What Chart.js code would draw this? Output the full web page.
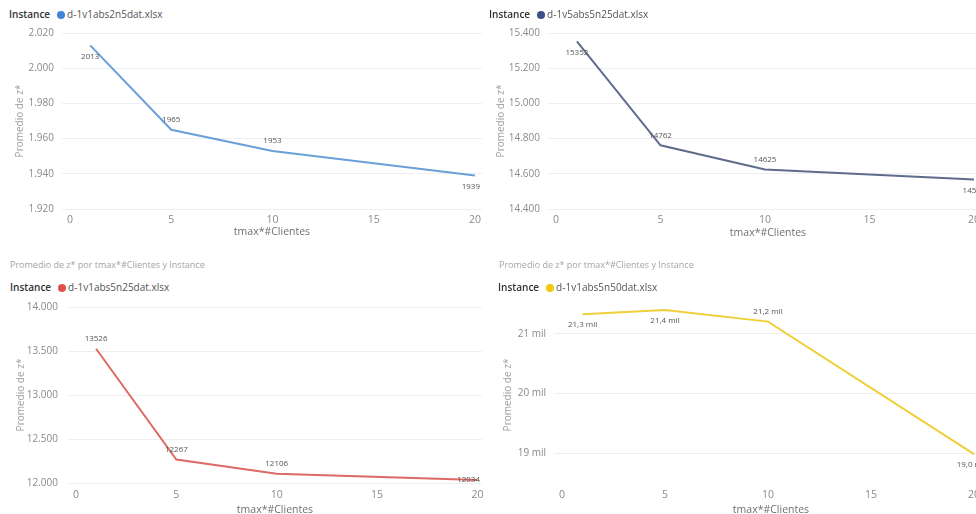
<!DOCTYPE html>
<html>
<head>
<meta charset="utf-8">
<script src="https://cdn.jsdelivr.net/npm/chart.js@4.4.0/dist/chart.umd.min.js"></script>
<style>
html, body { margin:0; padding:0; background:#fff; overflow:hidden; width:976px; height:514px; position:relative; font-family:"Open Sans", sans-serif; }
canvas { position:absolute; }
.leg { position:absolute; font-size:10px; color:#555; white-space:nowrap; line-height:12px; }
.leg b { font-weight:600; color:#333; margin-right:7px; }
.dot { display:inline-block; width:8px; height:8px; border-radius:50%; margin-right:2px; vertical-align:-1px; }
.ttl { position:absolute; font-size:9px; color:#a5a5a5; white-space:nowrap; line-height:12px; }
</style>
</head>
<body>
<script>
// datos
const xValues = [1, 5, 10, 20];
const xTicks = [0, 5, 10, 15, 20];
const instances = ['d-1v1abs2n5dat.xlsx', 'd-1v5abs5n25dat.xlsx', 'd-1v1abs5n25dat.xlsx', 'd-1v1abs5n50dat.xlsx'];
const zAvg1 = [2013, 1965, 1953, 1939];
const zAvg2 = [15352, 14762, 14625, 14567];
const zAvg3 = [13526, 12267, 12106, 12034];
const zAvg4 = [21330, 21400, 21205, 18985];
const yTicks1 = [1920, 1940, 1960, 1980, 2000, 2020];
const yTicks2 = [14400, 14600, 14800, 15000, 15200, 15400];
const yTicks3 = [12000, 12500, 13000, 13500, 14000];
const yTicks4 = [19000, 20000, 21000];
const yRange4 = [18500, 21450];

const chartTitle = 'Promedio de z* por tmax*#Clientes y Instance';
const xTitle = 'tmax*#Clientes';
const yTitle = 'Promedio de z*';

function miles(v) {
	return String(v).replace(/\B(?=(\d{3})+(?!\d))/g, '.');
}
function milCorto(v) {
	return (v / 1000) + ' mil';
}
function milDecimal(v) {
	return (v / 1000).toFixed(1).replace('.', ',') + ' mil';
}

const paneles = [
	{ values: zAvg1, name: instances[0], color: '#6a9fd8', dot: '#3f86d4', yTicks: yTicks1, yMin: yTicks1[0], yMax: yTicks1[5],
	  fmtTick: miles, fmtLabel: String, sides: ['below', 'above', 'above', 'below'],
	  box: { left: 0, top: 0, width: 490, height: 250 }, area: { left: 62, right: 482, top: 33, bottom: 209 },
	  x0: 70, unit: 20.25, tickPad: 8, yTitleX: 20.5, xTickY: 220, xTitleY: 232.7, legend: { x: 9, y: 8 } },
	{ values: zAvg2, name: instances[1], color: '#5f6c8c', dot: '#3b5189', yTicks: yTicks2, yMin: yTicks2[0], yMax: yTicks2[5],
	  fmtTick: miles, fmtLabel: String, sides: ['below', 'above', 'above', 'below'],
	  box: { left: 486, top: 0, width: 510, height: 250 }, area: { left: 548, right: 988, top: 33, bottom: 209 },
	  x0: 556, unit: 20.9, tickPad: 8, yTitleX: 501, xTickY: 220, xTitleY: 233, legend: { x: 489, y: 8 } },
	{ values: zAvg3, name: instances[2], color: '#dd6a64', dot: '#e0504a', yTicks: yTicks3, yMin: yTicks3[0], yMax: yTicks3[4],
	  fmtTick: miles, fmtLabel: String, sides: ['above', 'above', 'above', 'below'],
	  box: { left: 0, top: 250, width: 490, height: 280 }, area: { left: 68, right: 482, top: 307, bottom: 483 },
	  x0: 76, unit: 20.07, tickPad: 10, yTitleX: 21, xTickY: 495, xTitleY: 510, legend: { x: 10, y: 281 }, title: { x: 10, y: 259 } },
	{ values: zAvg4, name: instances[3], color: '#f0cf3a', dot: '#f2c80f', yTicks: yTicks4, yMin: yRange4[0], yMax: yRange4[1],
	  fmtTick: milCorto, fmtLabel: milDecimal, sides: ['below', 'below', 'above', 'below'],
	  box: { left: 486, top: 250, width: 510, height: 280 }, area: { left: 554, right: 988, top: 307, bottom: 483 },
	  x0: 562, unit: 20.6, tickPad: 8, yTitleX: 508.5, xTickY: 495, xTitleY: 510, legend: { x: 498, y: 281 }, title: { x: 499, y: 259 } }
];

const etiquetas = {
	id: 'etiquetas',
	afterDatasetsDraw(chart, args, opts) {
		const ctx = chart.ctx;
		const area = chart.chartArea;
		const meta = chart.getDatasetMeta(0);
		ctx.save();
		ctx.font = '8px "Open Sans"';
		ctx.fillStyle = '#555';
		ctx.textAlign = 'center';
		ctx.textBaseline = 'middle';
		meta.data.forEach((pt, i) => {
			const txt = opts.format(chart.data.datasets[0].data[i].y);
			const w = ctx.measureText(txt).width;
			let x = Math.min(pt.x, area.right - w / 2 - 2);
			let y = pt.y + (opts.sides[i] == 'above' ? -10 : 11);
			y = Math.min(y, area.bottom - 3);
			ctx.fillText(txt, x, y);
		});
		ctx.restore();
	}
};

function crearPanel(p) {
	const b = p.box, a = p.area;
	const lh = 12;
	if (p.title) {
		const t = document.createElement('div');
		t.className = 'ttl';
		t.style.left = p.title.x + 'px';
		t.style.top = p.title.y + 'px';
		t.textContent = chartTitle;
		document.body.appendChild(t);
	}
	const leg = document.createElement('div');
	leg.className = 'leg';
	leg.style.left = p.legend.x + 'px';
	leg.style.top = p.legend.y + 'px';
	leg.innerHTML = '<b>Instance</b><span class="dot" style="background:' + p.dot + '"></span>' + p.name;
	document.body.appendChild(leg);

	const cv = document.createElement('canvas');
	cv.width = b.width;
	cv.height = b.height;
	cv.style.left = b.left + 'px';
	cv.style.top = b.top + 'px';
	document.body.appendChild(cv);

	new Chart(cv.getContext('2d'), {
		type: 'line',
		data: {
			datasets: [{
				label: p.name,
				data: xValues.map((x, i) => ({ x: x, y: p.values[i] })),
				borderColor: p.color,
				borderWidth: 2,
				pointRadius: 0,
				tension: 0
			}]
		},
		options: {
			responsive: false,
			animation: false,
			layout: { padding: { top: a.top - b.top, right: b.left + b.width - a.right, left: 0, bottom: 0 } },
			plugins: {
				legend: { display: false },
				tooltip: { enabled: false },
				etiquetas: { format: p.fmtLabel, sides: p.sides }
			},
			scales: {
				x: {
					type: 'linear',
					min: -(p.x0 - a.left) / p.unit,
					max: (a.right - p.x0) / p.unit,
					afterBuildTicks: s => { s.ticks = xTicks.map(v => ({ value: v })); },
					afterFit: s => { s.height = b.top + b.height - a.bottom; },
					grid: { display: false, drawTicks: false },
					border: { display: false },
					ticks: { color: '#8a8a8a', font: { family: 'Open Sans', size: 10.5 }, padding: p.xTickY - a.bottom - lh / 2, maxRotation: 0 },
					title: { display: true, text: xTitle, color: '#707070', font: { family: 'Open Sans', size: 10.5 },
						padding: { top: 0, bottom: b.top + b.height - p.xTitleY - lh / 2 } }
				},
				y: {
					min: p.yMin,
					max: p.yMax,
					afterBuildTicks: s => { s.ticks = p.yTicks.map(v => ({ value: v })); },
					afterFit: s => { s.width = a.left - b.left; },
					grid: { color: '#efefef', drawTicks: false },
					border: { display: false },
					ticks: { color: '#8a8a8a', font: { family: 'Open Sans', size: 10 }, padding: p.tickPad, callback: v => p.fmtTick(v) },
					title: { display: true, text: yTitle, color: '#a0a0a0', font: { family: 'Open Sans', size: 10 },
						padding: { top: p.yTitleX - b.left - lh / 2, bottom: 0 } }
				}
			}
		},
		plugins: [etiquetas]
	});
}

paneles.forEach(crearPanel);
</script>
</body>
</html>
